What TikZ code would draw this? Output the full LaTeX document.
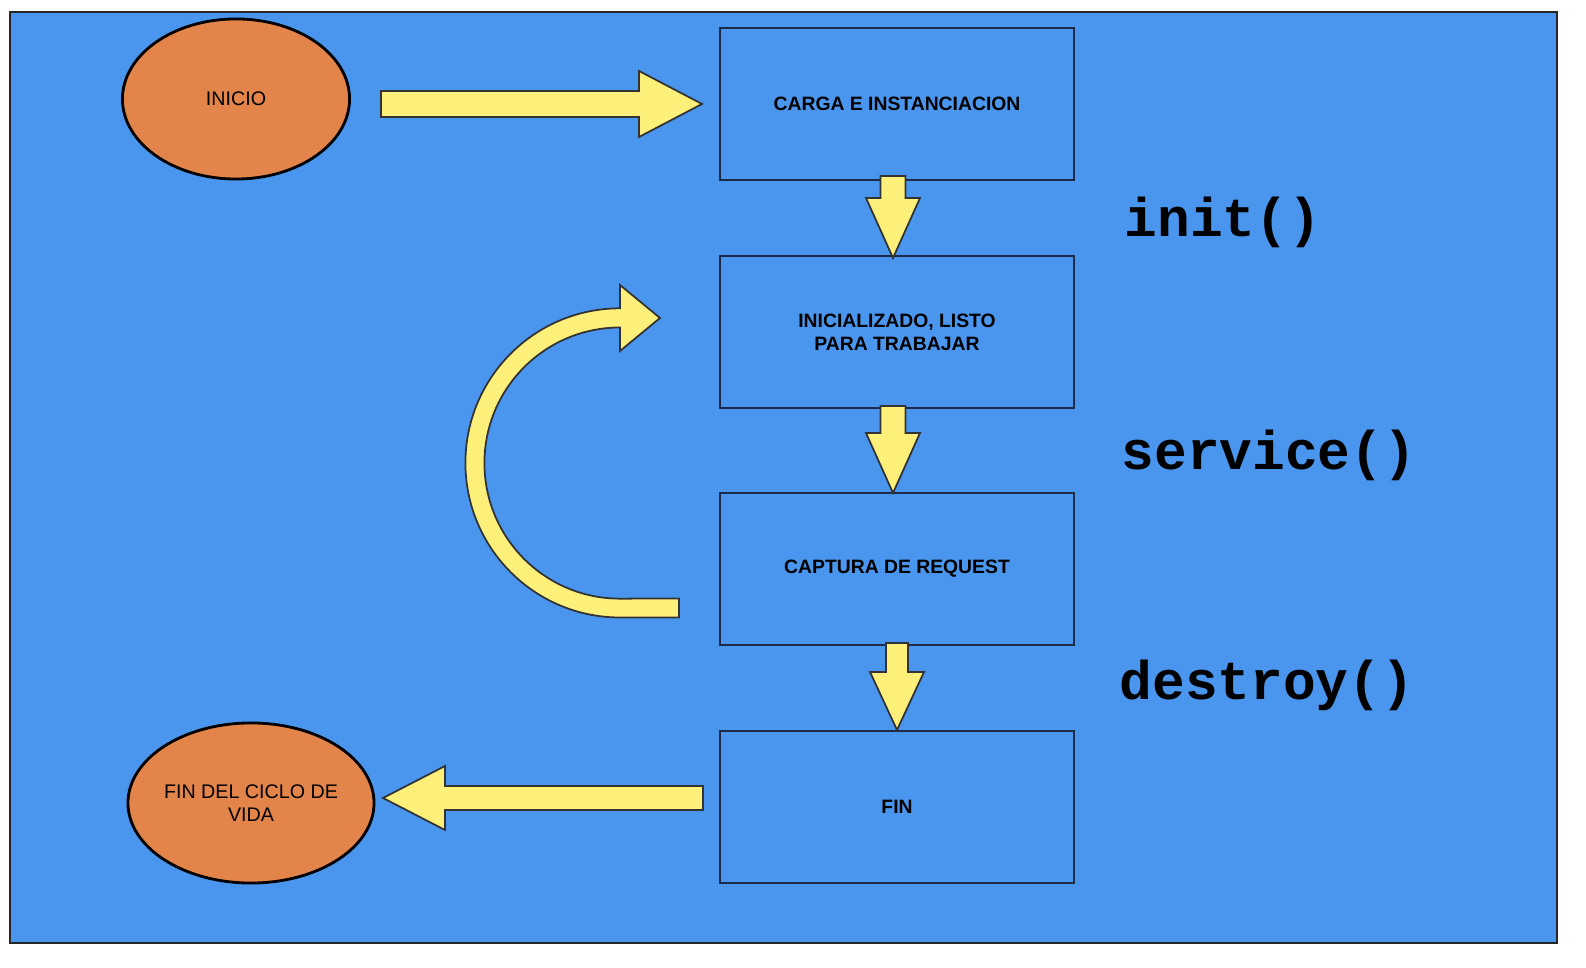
\documentclass[tikz,border=0pt]{standalone}
\usepackage{fontspec}
\setmainfont{Liberation Sans}
\newfontfamily\codefont{Liberation Mono}
\usetikzlibrary{shapes.geometric,calc}
\definecolor{fondo}{RGB}{74,150,238}
\definecolor{naranja}{RGB}{227,132,74}
\definecolor{amarillo}{RGB}{252,240,122}
\definecolor{borde}{RGB}{28,44,72}

\begin{document}
\begin{tikzpicture}[x=0.01cm,y=-0.01cm]
	\tikzstyle{none}=[inner sep=0pt]
	\tikzstyle{oval}=[ellipse,draw=black,line width=0.8pt,fill=naranja,minimum width=2.27cm,minimum height=1.6cm,inner sep=0pt,align=center,font=\fontsize{5.6}{6.6}\selectfont]
	\tikzstyle{box}=[rectangle,draw=borde,line width=0.5pt,minimum width=3.54cm,minimum height=1.52cm,align=center,font=\fontsize{5.5}{6.5}\selectfont\bfseries]
	\tikzstyle{block}=[draw=black!80,line width=0.5pt,fill=amarillo,line join=miter]
	\tikzstyle{code}=[inner sep=0pt,anchor=base west,font=\codefont\bfseries\fontsize{15.5}{16}\selectfont]

		\useasboundingbox (0,0) rectangle (1586,968);
		\draw [fill=fondo,draw=black!85,line width=0.5pt] (10,12) rectangle (1557,943);

		\node [style=oval] (10) at (236,99) {INICIO};
		\node [style=oval] (11) at (251,803) {FIN DEL CICLO DE\\VIDA};
		\node [style=box] (12) at (897,104) {CARGA E INSTANCIACION};
		\node [style=box] (13) at (897,332) {INICIALIZADO, LISTO\\PARA TRABAJAR};
		\node [style=box] (14) at (897,569) {CAPTURA DE REQUEST};
		\node [style=box] (15) at (897,807) {FIN};
		\node [style=code] (16) at (1124,237) {init()};
		\node [style=code] (17) at (1121,470) {service()};
		\node [style=code] (18) at (1119,700) {destroy()};

		\node [style=none] (0) at (381,104) {};
		\node [style=none] (1) at (12.west) {};
		\node [style=none] (2) at (893,176) {};
		\node [style=none] (3) at (893,258) {};
		\node [style=none] (4) at (893,406) {};
		\node [style=none] (5) at (893,493) {};
		\node [style=none] (6) at (897,643) {};
		\node [style=none] (7) at (897,730) {};
		\node [style=none] (8) at (703,798) {};
		\node [style=none] (9) at (383,798) {};
		\node [style=none] (19) at (679,608) {};
		\node [style=none] (20) at (660,318) {};

		% INICIO -> CARGA
		\draw [style=block] ($(0.center)+(0,-13)$) -- ($(1.center)+(-80,-13)$) -- ($(1.center)+(-80,-33)$) -- ($(1.center)+(-17,0)$) -- ($(1.center)+(-80,33)$) -- ($(1.center)+(-80,13)$) -- ($(0.center)+(0,13)$) -- cycle;
		% bajadas
		\draw [style=block] ($(2.center)+(-12.5,0)$) -- ($(3.center)+(-12.5,-60)$) -- ($(3.center)+(-27,-60)$) -- (3.center) -- ($(3.center)+(27,-60)$) -- ($(3.center)+(12.5,-60)$) -- ($(2.center)+(12.5,0)$) -- cycle;
		\draw [style=block] ($(4.center)+(-12.5,0)$) -- ($(5.center)+(-12.5,-60)$) -- ($(5.center)+(-27,-60)$) -- (5.center) -- ($(5.center)+(27,-60)$) -- ($(5.center)+(12.5,-60)$) -- ($(4.center)+(12.5,0)$) -- cycle;
		\draw [style=block] ($(6.center)+(-11,0)$) -- ($(7.center)+(-11,-58)$) -- ($(7.center)+(-27,-58)$) -- (7.center) -- ($(7.center)+(27,-58)$) -- ($(7.center)+(11,-58)$) -- ($(6.center)+(11,0)$) -- cycle;
		% FIN -> FIN DEL CICLO
		\draw [style=block] ($(8.center)+(0,-12)$) -- ($(9.center)+(62,-12)$) -- ($(9.center)+(62,-32)$) -- (9.center) -- ($(9.center)+(62,32)$) -- ($(9.center)+(62,12)$) -- ($(8.center)+(0,12)$) -- cycle;
		% vuelta
		\draw [style=block] ($(19.center)+(0,9.5)$) -- ($(19.center)+(-59,9.5)$) arc [start angle=270, end angle=90, radius=1.545cm] -- ($(20.center)+(-40,-33)$) -- (20.center) -- ($(20.center)+(-40,33)$) -- ($(20.center)+(-40,9.5)$) arc [start angle=90, end angle=270, radius=1.355cm] -- ($(19.center)+(0,-9.5)$) -- cycle;

\end{tikzpicture}
\end{document}
